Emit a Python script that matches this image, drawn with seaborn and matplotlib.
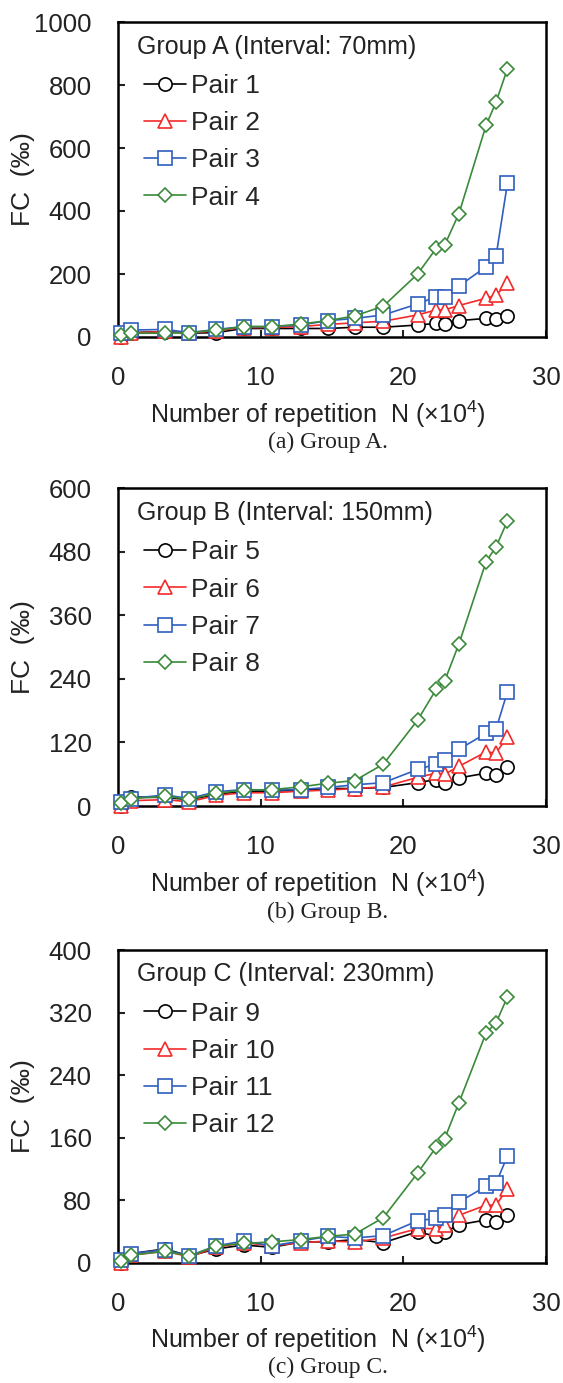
import numpy as np
import pandas as pd
import matplotlib
matplotlib.use("Agg")
import matplotlib.pyplot as plt
import seaborn as sns

# repetition count N (x10^4), shared by all pairs
N = [0.2, 0.9, 3.3, 5.0, 6.9, 8.8, 10.8, 12.8, 14.7, 16.6, 18.6, 21.0, 22.3, 22.9, 23.9, 25.8, 26.5, 27.3]

# Group A (70mm)
pair1 = [0, 14, 17, 12, 14, 27, 27, 27, 27, 31, 31, 38, 43, 41, 52, 59, 56, 67]
pair2 = [0, 12, 18, 12, 20, 30, 30, 33, 40, 45, 50, 70, 86, 86, 100, 123, 133, 170]
pair3 = [12, 22, 24, 14, 24, 33, 33, 38, 52, 59, 70, 105, 128, 128, 162, 223, 257, 489]
pair4 = [6, 12, 12, 14, 22, 33, 33, 41, 52, 67, 98, 200, 281, 292, 392, 672, 746, 852]
# Group B (150mm)
pair5 = [0, 17, 16, 12, 22, 28, 28, 30, 33, 33, 35, 44, 50, 43, 53, 62, 58, 73]
pair6 = [0, 10, 12, 8, 20, 25, 25, 28, 30, 33, 36, 54, 62, 60, 75, 102, 100, 131]
pair7 = [8, 14, 21, 14, 27, 31, 30, 31, 35, 40, 44, 69, 79, 87, 107, 137, 145, 216]
pair8 = [5, 14, 18, 13, 24, 30, 31, 36, 43, 48, 79, 162, 220, 236, 306, 461, 489, 538]
# Group C (230mm)
pair9 = [0, 12, 18, 9, 18, 23, 20, 27, 27, 30, 26, 40, 34, 39, 49, 55, 52, 61]
pair10 = [0, 10, 15, 8, 20, 26, 22, 26, 28, 27, 32, 44, 44, 49, 61, 74, 74, 95]
pair11 = [4, 12, 17, 9, 22, 28, 22, 28, 34, 32, 35, 54, 57, 61, 78, 98, 102, 137]
pair12 = [2, 10, 15, 9, 22, 25, 27, 30, 34, 37, 58, 115, 148, 159, 205, 294, 307, 340]

group_titles = ["Group A (Interval: 70mm)", "Group B (Interval: 150mm)", "Group C (Interval: 230mm)"]
captions = ["(a) Group A.", "(b) Group B.", "(c) Group C."]
pair_names = [["Pair 1", "Pair 2", "Pair 3", "Pair 4"],
              ["Pair 5", "Pair 6", "Pair 7", "Pair 8"],
              ["Pair 9", "Pair 10", "Pair 11", "Pair 12"]]
pair_values = [[pair1, pair2, pair3, pair4],
               [pair5, pair6, pair7, pair8],
               [pair9, pair10, pair11, pair12]]
y_max = [1000, 600, 400]
y_step = [200, 120, 80]

colors = ["black", "#F22A2A", "#2F5FBF", "#3A8A3A"]
markers = ["o", "^", "s", "D"]
msizes = [9.5, 10, 9.5, 7.5]

sns.set_style("ticks")
plt.rcParams["font.family"] = ["Liberation Sans", "DejaVu Sans"]
plt.rcParams["mathtext.fontset"] = "custom"
plt.rcParams["mathtext.rm"] = "Liberation Sans"
plt.rcParams["mathtext.it"] = "Liberation Sans"

fig = plt.figure(figsize=(5.63, 13.83), dpi=100)
W, H = 563, 1383
ax_boxes = [(118, 22, 546, 337), (118, 488, 546, 806), (118, 950, 546, 1263)]

for g in range(3):
    l, t, r, b = ax_boxes[g]
    ax = fig.add_axes([l / W, 1 - b / H, (r - l) / W, (b - t) / H])
    for k in range(4):
        df = pd.DataFrame({"N": N, "FC": pair_values[g][k]})
        sns.lineplot(data=df, x="N", y="FC", ax=ax, color=colors[k], marker=markers[k],
                     markersize=msizes[k], markerfacecolor="white", markeredgecolor=colors[k],
                     markeredgewidth=1.2, linewidth=1.2, label=pair_names[g][k], clip_on=False,
                     zorder=3)
    ax.set_xlim(0, 30)
    ax.set_ylim(0, y_max[g])
    ax.set_xticks([0, 10, 20, 30])
    ax.set_yticks(np.arange(0, y_max[g] + 1, y_step[g]))
    ax.tick_params(axis="both", direction="in", length=5, width=1.5, labelsize=18.5, colors="#222222")
    ax.tick_params(axis="x", pad=21)
    ax.tick_params(axis="y", pad=19)
    for sp in ax.spines.values():
        sp.set_linewidth(1.8)
        sp.set_color("black")
        sp.set_visible(True)
    ax.set_xlabel("Number of repetition  N (×10$^{4}$)", fontsize=18, color="#222222")
    ax.set_ylabel("FC  (‰)", fontsize=19, color="#222222")
    ax.xaxis.set_label_coords(0.467, -0.195)
    ax.yaxis.set_label_coords(-0.195, 0.5)
    ax.text(0.045, 0.922, group_titles[g], transform=ax.transAxes, fontsize=18,
            ha="left", va="center", color="#222222")
    ax.legend(loc="upper left", bbox_to_anchor=(0.06, 0.835), frameon=False, fontsize=19,
              borderpad=0, borderaxespad=0, handlelength=1.6, handletextpad=0.2,
              labelspacing=0.5)
    ax.text(0.49, -0.335, captions[g], transform=ax.transAxes, fontsize=17,
            family="Liberation Serif", ha="center", va="center", color="#222222")

fig.savefig("out.png", dpi=100)
